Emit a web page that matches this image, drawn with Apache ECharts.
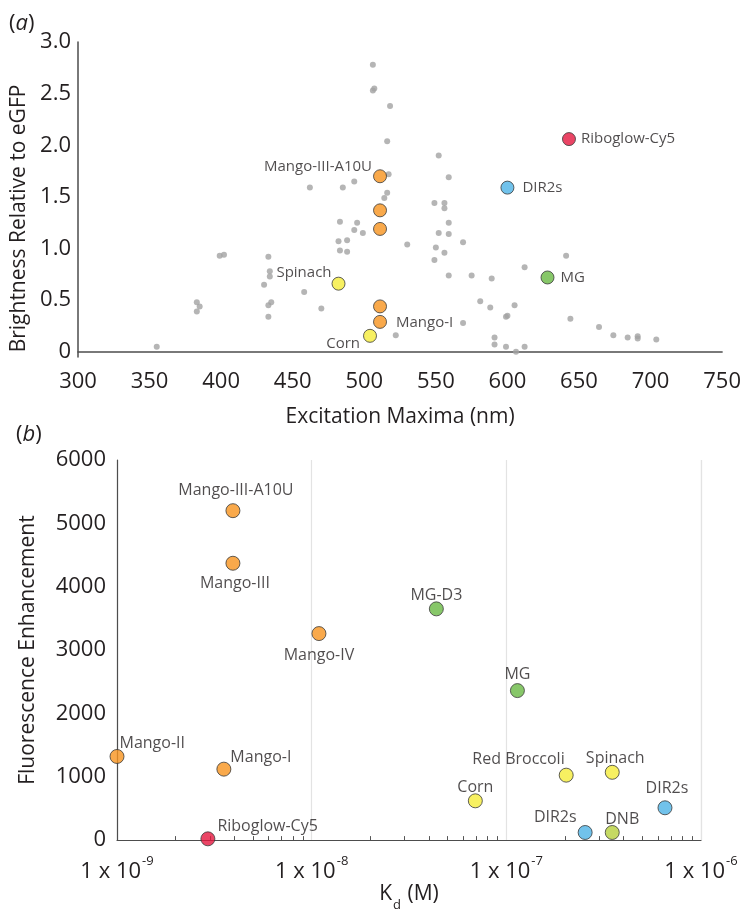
<!DOCTYPE html>
<html><head><meta charset="utf-8">
<script src="https://cdn.jsdelivr.net/npm/echarts@6/dist/echarts.min.js"></script>
<style>html,body{margin:0;padding:0;background:#fff}#c{width:744px;height:913px}</style>
</head><body><div id="c"></div>
<script>
// ---------- DATA ----------
// Panel (a): gray background aptamers [excitation nm, brightness]
const grayPoints = [
 [355,0.05],[383,0.48],[385,0.44],[383,0.39],[399,0.93],[402,0.94],[433,0.92],[434,0.78],[434,0.73],
 [430,0.65],[433,0.45],[435,0.48],[433,0.34],[458,0.58],[462,1.59],[470,0.42],[485,1.59],[493,1.65],
 [483,1.26],[495,1.25],[493,1.18],[499,1.15],[482,1.07],[488,1.08],[483,0.98],[488,0.97],
 [506,2.78],[506,2.53],[507,2.55],[518,2.38],[516,2.04],[552,1.90],[559,1.69],[517,1.72],[516,1.54],
 [514,1.49],[549,1.44],[556,1.44],[556,1.39],[559,1.25],[552,1.15],[559,1.14],[530,1.04],[569,1.06],
 [550,1.01],[556,0.96],[549,0.89],[641,0.93],[612,0.82],[559,0.74],[575,0.74],[589,0.71],[581,0.49],
 [588,0.43],[605,0.45],[599,0.34],[600,0.35],[569,0.28],[644,0.32],[664,0.24],[674,0.16],[684,0.14],
 [691,0.15],[691,0.13],[704,0.12],[522,0.16],[591,0.14],[591,0.07],[599,0.05],[612,0.05],[606,0.0]
];
// Panel (a): highlighted aptamers
const aNames  = ['Mango-III-A10U','','','','Mango-I','Spinach','Corn','DIR2s','MG','Riboglow-Cy5'];
const aExc    = [511,511,511,511,511,482,504,600,628,643];
const aBright = [1.70,1.37,1.19,0.44,0.29,0.66,0.155,1.59,0.72,2.06];
const aGroup  = ['mango','mango','mango','mango','mango','yellow','yellow','blue','green','red'];
const aXTicks = [300,350,400,450,500,550,600,650,700,750];
const aYTicks = [0,0.5,1.0,1.5,2.0,2.5,3.0];

// Panel (b): Kd (M) vs fluorescence enhancement
const bNames = ['Mango-III-A10U','Mango-III','Mango-IV','Mango-II','Mango-I','Riboglow-Cy5',
                'MG-D3','MG','Red Broccoli','Spinach','Corn','DIR2s','DIR2s','DNB'];
const bKd    = [3.94e-9,3.94e-9,1.09e-8,1.0e-9,3.54e-9,2.93e-9,
                4.37e-8,1.14e-7,2.03e-7,3.5e-7,6.93e-8,6.53e-7,2.54e-7,3.5e-7];
const bFE    = [5200,4370,3260,1320,1120,20,3650,2360,1025,1070,620,510,120,120];
const bGroup = ['mango','mango','mango','mango','mango','red',
                'green','green','yellow','yellow','yellow','blue','blue','olive'];
const bYTicks = [0,1000,2000,3000,4000,5000,6000];
const bMinorTicks = [2e-9,3e-9,4e-9,5e-9,6e-9,7e-9,8e-9,9e-9,2e-8,3e-8,4e-8,5e-8,6e-8,7e-8,8e-8,9e-8,
                     2e-7,3e-7,4e-7,5e-7,6e-7,7e-7,8e-7,9e-7];

// ---------- STYLE ----------
const FONT = 'Open Sans';
const colors = {mango:'#f7931e', yellow:'#f5ec3a', blue:'#4db3e6', green:'#69b944', red:'#e5173f', olive:'#b7cf3c'};
const aLabelCfg = {
 'Mango-III-A10U':{position:'left',distance:0,offset:[-1,-10]},
 'Mango-I':{position:'right',distance:9,offset:[0,1]},
 'Spinach':{position:'left',distance:0,offset:[0,-11]},
 'Corn':{position:'left',distance:3,offset:[0,8]},
 'DIR2s':{position:'right',distance:8,offset:[0,0]},
 'MG':{position:'right',distance:6,offset:[0,0]},
 'Riboglow-Cy5':{position:'right',distance:5,offset:[0,0]}
};
const bLabelCfg = [
 {position:'top',distance:5,offset:[3,0]},
 {position:'bottom',distance:5,offset:[2,0]},
 {position:'bottom',distance:6,offset:[0,0]},
 {position:'right',distance:0,offset:[-5,-13]},
 {position:'right',distance:0,offset:[-1,-12]},
 {position:'right',distance:2,offset:[0,-12]},
 {position:'top',distance:-2,offset:[0,0]},
 {position:'top',distance:1,offset:[0,0]},
 {position:'left',distance:0,offset:[6,-16]},
 {position:'top',distance:-2,offset:[3,0]},
 {position:'top',distance:-2,offset:[0,0]},
 {position:'top',distance:4,offset:[2,0]},
 {position:'left',distance:1,offset:[0,-15]},
 {position:'top',distance:-2,offset:[10,0]}
];

const aData = aExc.map((x,i)=>{
  const cfg = aLabelCfg[aNames[i]];
  return {value:[x,aBright[i]], name:aNames[i],
    itemStyle:{color:colors[aGroup[i]]},
    label: cfg ? Object.assign({show:true, formatter:aNames[i]}, cfg) : {show:false}};
});
const bData = bKd.map((x,i)=>({value:[x,bFE[i]], name:bNames[i],
  itemStyle:{color:colors[bGroup[i]]},
  label:Object.assign({show:true, formatter:bNames[i]}, bLabelCfg[i])}));

const axisLineA = {show:true, lineStyle:{color:'#4d4d4d', width:1.5}};
const axisLineB = {show:true, lineStyle:{color:'#4d4d4d', width:1.2}};
const tickFont = {fontFamily:FONT, fontSize:22, color:'#231f20'};
const nameFont = {fontFamily:FONT, fontSize:21, color:'#231f20'};

const chart = echarts.init(document.getElementById('c'), null, {renderer:'canvas'});
chart.setOption({
  backgroundColor:'#fff',
  animation:false,
  grid:[
    {left:78, top:42, width:645, height:315},
    {left:117, top:460, width:584, height:386}
  ],
  xAxis:[
    {gridIndex:0, type:'value', min:300, max:750, interval:50,
     axisLine:axisLineA, axisTick:{show:false}, splitLine:{show:false},
     axisLabel:Object.assign({margin:14, customValues:aXTicks}, tickFont),
     name:'Excitation Maxima (nm)', nameLocation:'middle', nameGap:50, nameTextStyle:nameFont},
    {gridIndex:1, type:'log', logBase:10, min:1e-9, max:1e-6, position:'bottom',
     axisLine:axisLineB, axisTick:{show:false},
     splitLine:{show:true, lineStyle:{color:'#e3e3e3', width:1.2}},
     axisLabel:{margin:15, fontFamily:FONT, fontSize:22, color:'#231f20',
       formatter:v=>{const e=Math.round(Math.log10(v)); return '{n|1 x 10}{s|'+e+'}';},
       rich:{n:{fontFamily:FONT, fontSize:22, color:'#231f20', lineHeight:28, verticalAlign:'bottom'},
             s:{fontFamily:FONT, fontSize:13, color:'#231f20', lineHeight:28, verticalAlign:'top', padding:[0,0,0,1]}}},
     name:'{k|K}{d|d}{k| (M)}', nameLocation:'middle', nameGap:41,
     nameTextStyle:{rich:{k:{fontFamily:FONT, fontSize:21, color:'#231f20', lineHeight:28, verticalAlign:'top'},
                          d:{fontFamily:FONT, fontSize:13, color:'#231f20', lineHeight:28, verticalAlign:'bottom', padding:[0,1,0,1]}}}},
    {gridIndex:1, type:'log', logBase:10, min:1e-9, max:1e-6, position:'bottom',
     axisLine:{show:false}, axisLabel:{show:false}, splitLine:{show:false},
     axisTick:{show:true, inside:true, length:4, customValues:bMinorTicks, lineStyle:{color:'#555', width:1}}}
  ],
  yAxis:[
    {gridIndex:0, type:'value', min:-0.05, max:3.0,
     axisLine:Object.assign({onZero:false}, axisLineA), axisTick:{show:false}, splitLine:{show:false},
     axisLabel:Object.assign({margin:7, customValues:aYTicks,
       formatter:v=> v===0 ? '0' : v.toFixed(1)}, tickFont),
     name:'Brightness Relative to eGFP', nameLocation:'middle', nameGap:36,
     nameTextStyle:Object.assign({padding:[0,38,0,0]}, nameFont)},
    {gridIndex:1, type:'value', min:0, max:6000, interval:1000,
     axisLine:axisLineB, axisTick:{show:false}, splitLine:{show:false},
     axisLabel:Object.assign({margin:11, formatter:v=>String(v)}, tickFont),
     name:'Fluorescence Enhancement', nameLocation:'middle', nameGap:78, nameTextStyle:nameFont}
  ],
  graphic:[
    {type:'text', left:9, top:13, style:{text:'({i|a})', font:'22px "Open Sans"', fill:'#231f20',
      rich:{i:{fontFamily:FONT, fontStyle:'italic', fontSize:22, fill:'#231f20'}}}},
    {type:'text', left:16, top:424, style:{text:'({i|b})', font:'22px "Open Sans"', fill:'#231f20',
      rich:{i:{fontFamily:FONT, fontStyle:'italic', fontSize:22, fill:'#231f20'}}}}
  ],
  series:[
    {type:'scatter', xAxisIndex:0, yAxisIndex:0, symbolSize:6, data:grayPoints,
     itemStyle:{color:'#a3a3a3'}, silent:true, z:2},
    {type:'scatter', xAxisIndex:0, yAxisIndex:0, symbolSize:13, data:aData,
     itemStyle:{borderColor:'#3a3a3a', borderWidth:1}, z:3,
     label:{fontFamily:FONT, fontSize:15, color:'#231f20'}},
    {type:'scatter', xAxisIndex:1, yAxisIndex:1, symbolSize:14, data:bData,
     itemStyle:{borderColor:'#3a3a3a', borderWidth:1}, z:3,
     label:{fontFamily:FONT, fontSize:16, color:'#231f20'}}
  ]
});
</script></body></html>
